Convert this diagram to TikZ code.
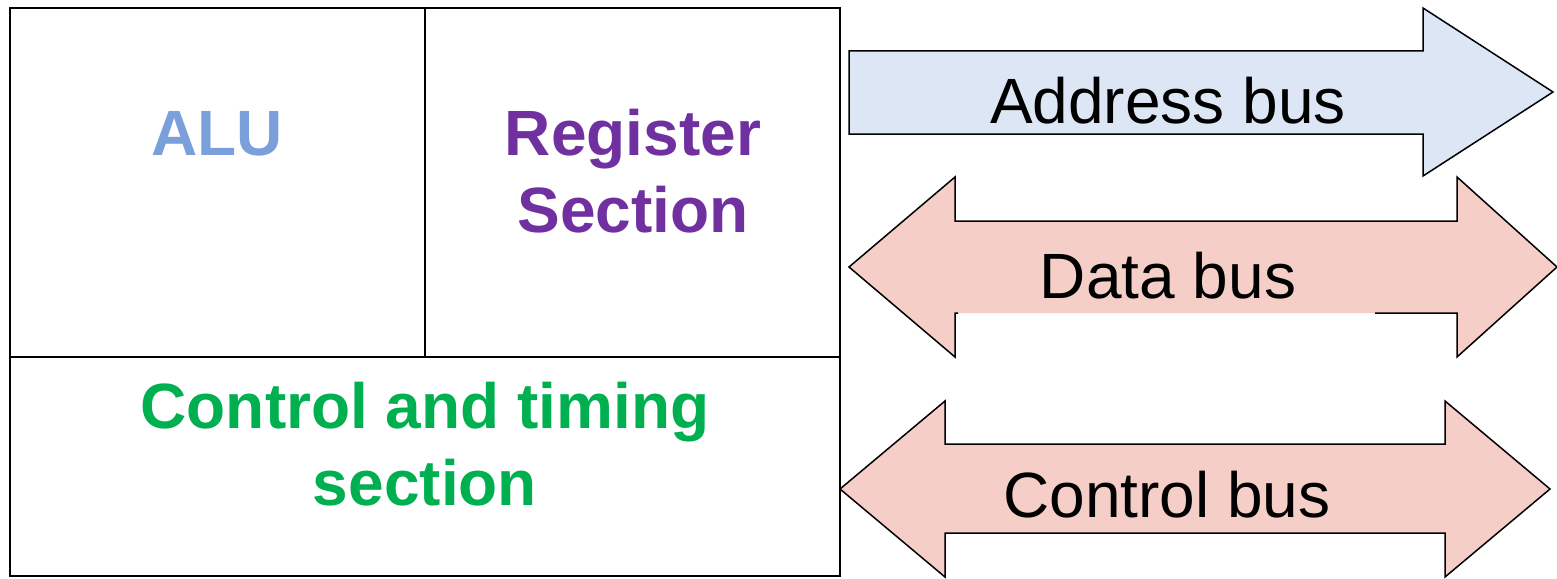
\documentclass[tikz,border=0pt]{standalone}
\usepackage{fontspec}
\setmainfont{Liberation Sans}
\definecolor{alublue}{HTML}{7A9FDB}
\definecolor{regpurple}{HTML}{7030A0}
\definecolor{ctlgreen}{HTML}{00B050}
\definecolor{addrfill}{HTML}{DDE6F5}
\definecolor{busfill}{HTML}{F6CEC8}
\begin{document}
\begin{tikzpicture}[x=1pt,y=-1pt,
  boxline/.style={draw=black,line width=2pt},
  busline/.style={draw=black,line width=1.5pt,line join=miter},
  blocklabel/.style={font=\fontsize{64}{77}\selectfont\bfseries,inner sep=0pt,align=center,anchor=base},
  buslabel/.style={font=\fontsize{64}{77}\selectfont,inner sep=0pt,anchor=base,text=black}]
\useasboundingbox (0,0) rectangle (1557,578);
% CPU block
\draw[boxline] (10,8) rectangle (840,576);
\draw[boxline] (10,357) -- (840,357);
\draw[boxline] (425,8) -- (425,357);
\node[blocklabel,text=alublue] (alu) at (217,155) {ALU};
\node[blocklabel,text=regpurple] (reg) at (633,232) {Register\\Section};
\node[blocklabel,text=ctlgreen] (ctl) at (425,505) {Control and timing\\section};
% Address bus
\draw[busline,fill=addrfill] (849,51) -- (1423,51) -- (1423,8) -- (1553,92) -- (1423,176) -- (1423,134) -- (849,134) -- cycle;
\node[buslabel] (addr) at (1168,123) {Address bus};
% Data bus
\fill[busfill] (849,267) -- (955,177) -- (955,221) -- (1457,221) -- (1457,177) -- (1557,267) -- (1457,357) -- (1457,313) -- (955,313) -- (955,357) -- cycle;
\draw[busline] (958,313) -- (955,313) -- (955,357) -- (849,267) -- (955,177) -- (955,221) -- (1457,221) -- (1457,177) -- (1557,267) -- (1457,357) -- (1457,313) -- (1375,313);
\node[buslabel] (data) at (1168,298) {Data bus};
% Control bus
\draw[busline,fill=busfill] (840,489) -- (945,401) -- (945,444) -- (1445,444) -- (1445,401) -- (1550,489) -- (1445,577) -- (1445,533) -- (945,533) -- (945,577) -- cycle;
\node[buslabel] (cbus) at (1167,517) {Control bus};
\end{tikzpicture}
\end{document}
